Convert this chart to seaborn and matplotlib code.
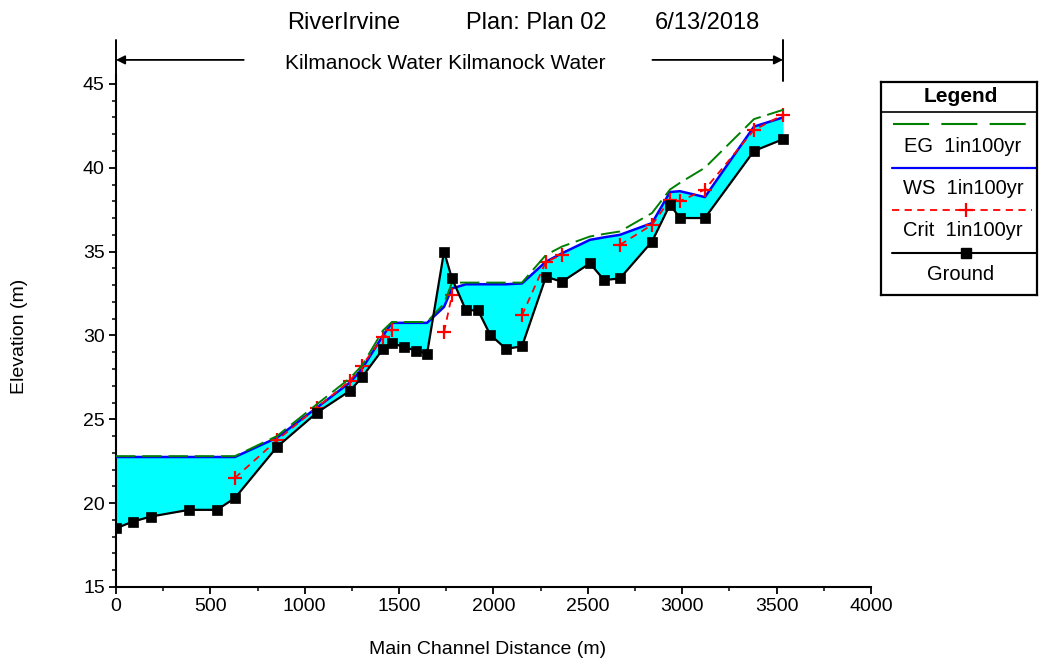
import numpy as np
import pandas as pd
import matplotlib
matplotlib.use("Agg")
import matplotlib.pyplot as plt
from matplotlib.ticker import AutoMinorLocator
import seaborn as sns

# River stations along the main channel (m) and profile elevations (m)
station = [0, 90, 185, 387, 535, 630, 853, 1065, 1240, 1303, 1415, 1462, 1526,
           1590, 1648, 1738, 1780, 1854, 1918, 1982, 2066, 2151, 2278, 2363,
           2511, 2586, 2670, 2840, 2935, 2988, 3120, 3380, 3534]
ground = [18.5, 18.9, 19.2, 19.6, 19.6, 20.3, 23.35, 25.4, 26.7, 27.5, 29.2,
          29.55, 29.3, 29.1, 28.9, 35.0, 33.4, 31.5, 31.5, 30.05, 29.2, 29.35,
          33.5, 33.2, 34.3, 33.3, 33.4, 35.6, 37.8, 37.0, 37.0, 41.0, 41.7]
ws_100yr = [22.75, 22.75, 22.75, 22.75, 22.75, 22.75, 23.9, 25.7, 27.2, 28.0,
            30.0, 30.75, 30.75, 30.75, 30.75, 31.7, 32.8, 33.05, 33.05, 33.05,
            33.05, 33.1, 34.4, 34.9, 35.7, 35.85, 36.0, 36.7, 38.55, 38.6,
            38.25, 42.45, 43.0]
eg_100yr = [22.8, 22.8, 22.8, 22.8, 22.8, 22.8, 24.0, 25.9, 27.45, 28.2, 30.3,
            30.8, 30.8, 30.8, 30.8, 31.9, 33.15, 33.15, 33.15, 33.15, 33.15,
            33.15, 34.8, 35.3, 35.9, 36.05, 36.2, 37.3, 38.7, 39.1, 40.0,
            42.9, 43.45]
crit_100yr = [np.nan, np.nan, np.nan, np.nan, np.nan, 21.5, 23.75, 25.7, 27.3,
              28.2, 29.9, 30.3, np.nan, np.nan, np.nan, 30.2, 32.4, np.nan,
              np.nan, np.nan, np.nan, 31.2, 34.4, 34.8, np.nan, np.nan, 35.4,
              36.6, 38.1, 38.0, 38.7, 42.25, 43.15]

title_river = "RiverIrvine"
title_plan = "Plan: Plan 02"
title_date = "6/13/2018"
reach_label = "Kilmanock Water Kilmanock Water"
x_label = "Main Channel Distance (m)"
y_label = "Elevation (m)"
x_ticks = [0, 500, 1000, 1500, 2000, 2500, 3000, 3500, 4000]
y_ticks = [15, 20, 25, 30, 35, 40, 45]
legend_entries = ["EG  1in100yr", "WS  1in100yr", "Crit  1in100yr", "Ground"]

sns.set_theme(style="ticks")
plt.rcParams["font.family"] = ["Liberation Sans", "DejaVu Sans"]

df = pd.DataFrame({"station": station, "ground": ground, "ws": ws_100yr,
                   "eg": eg_100yr, "crit": crit_100yr})
# critical depth is only drawn between stations where it was computed
df["crit_run"] = df["crit"].isna().cumsum()
crit_df = df.dropna(subset=["crit"])

fig = plt.figure(figsize=(10.4, 6.64), dpi=100)
fig.patch.set_facecolor("white")
ax = fig.add_axes([0.1115, 0.116, 0.726, 0.7703])
ax.set_facecolor("white")

# flow area between channel bed and water surface
ax.fill_between(df["station"], df["ground"], df["ws"], color="#00FFFF",
                linewidth=0, zorder=1)

sns.lineplot(data=df, x="station", y="ws", color="#0000FF", linewidth=1.8,
             ax=ax, zorder=3, legend=False)
sns.lineplot(data=crit_df, x="station", y="crit", units="crit_run",
             estimator=None, color="#FF0000", linewidth=1.3,
             linestyle=(0, (4, 3)), marker="+", markersize=10,
             markeredgecolor="#FF0000", markeredgewidth=1.6,
             ax=ax, zorder=4, legend=False)
sns.lineplot(data=df, x="station", y="eg", color="#008000", linewidth=1.4,
             linestyle=(0, (10, 3.5)), ax=ax, zorder=5, legend=False)
sns.lineplot(data=df, x="station", y="ground", color="black", linewidth=1.6,
             marker="s", markersize=7.5, markeredgecolor="black",
             markerfacecolor="black", markeredgewidth=0.5,
             ax=ax, zorder=6, legend=False)

ax.set_xlim(0, 4000)
ax.set_ylim(15, 45.5)
ax.set_xticks(x_ticks)
ax.set_yticks(y_ticks)
ax.xaxis.set_minor_locator(AutoMinorLocator(2))
ax.yaxis.set_minor_locator(AutoMinorLocator(5))
ax.tick_params(which="major", direction="out", length=5, width=1.3,
               labelsize=14, pad=3, colors="black")
ax.tick_params(which="minor", direction="out", length=3, width=1.1,
               colors="black")
sns.despine(ax=ax)
for side in ("left", "bottom"):
    ax.spines[side].set_color("black")
    ax.spines[side].set_linewidth(1.5)

ax.set_xlabel(x_label, fontsize=14, color="black")
ax.set_ylabel(y_label, fontsize=14, color="black")
ax.xaxis.set_label_coords(0.492, -0.106)
ax.yaxis.set_label_coords(-0.116, 0.489)

# reach extent marker above the plot
reach_start, reach_end = station[0], station[-1]
reach_mid = (reach_start + reach_end) / 2
y_arrow, bar_lo, bar_hi = 46.43, 45.2, 47.62
for xb in (reach_start, reach_end):
    ax.plot([xb, xb], [bar_lo, bar_hi], color="black", lw=1.4, clip_on=False)
ax.annotate("", xy=(reach_start, y_arrow), xytext=(reach_mid - 1090, y_arrow),
            arrowprops=dict(arrowstyle="-|>", color="black", lw=1.3,
                            mutation_scale=13, shrinkA=0, shrinkB=0),
            annotation_clip=False)
ax.annotate("", xy=(reach_end, y_arrow), xytext=(reach_mid + 1075, y_arrow),
            arrowprops=dict(arrowstyle="-|>", color="black", lw=1.3,
                            mutation_scale=13, shrinkA=0, shrinkB=0),
            annotation_clip=False)
ax.text(reach_mid - 20, 46.2, reach_label, ha="center", va="center",
        fontsize=15, color="black", clip_on=False)

# title pieces
fig.text(344 / 1040, 1 - 23 / 664, title_river, ha="center", va="center",
         fontsize=17, color="black")
fig.text(536 / 1040, 1 - 23 / 664, title_plan, ha="center", va="center",
         fontsize=17, color="black")
fig.text(707 / 1040, 1 - 23 / 664, title_date, ha="center", va="center",
         fontsize=17, color="black")

# legend box, drawn in its own pixel-scaled panel
lx0, lx1, ly0, ly1 = 881, 1037, 82, 295
lax = fig.add_axes([lx0 / 1040, 1 - ly1 / 664, (lx1 - lx0) / 1040,
                    (ly1 - ly0) / 664])
lax.set_xlim(lx0, lx1)
lax.set_ylim(ly1, ly0)
lax.set_xticks([])
lax.set_yticks([])
for sp in lax.spines.values():
    sp.set_color("black")
    sp.set_linewidth(1.6)
lax.set_facecolor("white")
cx = (lx0 + lx1) / 2
lax.text(cx + 2, 97, "Legend", ha="center", va="center", fontsize=15,
         fontweight="bold", color="black")
lax.plot([lx0, lx1], [112, 112], color="black", lw=1.2)
lax.plot([893, 1026], [124, 124], color="#008000", lw=1.5,
         linestyle=(0, (17.3, 5.9)))
lax.text(cx + 4, 146, legend_entries[0], ha="center", va="center",
         fontsize=14.5, color="black")
lax.plot([892, 1036], [168, 168], color="#0000FF", lw=1.6)
lax.text(cx + 4, 188, legend_entries[1], ha="center", va="center",
         fontsize=14.5, color="black")
lax.plot([892, 1032], [210, 210], color="#FF0000", lw=1.3,
         linestyle=(0, (4, 3)))
lax.plot([966], [210], marker="+", markersize=10, color="#FF0000",
         markeredgewidth=1.6)
lax.text(cx + 4, 230, legend_entries[2], ha="center", va="center",
         fontsize=14.5, color="black")
lax.plot([892, 1036], [253, 253], color="black", lw=1.5)
lax.plot([966], [253], marker="s", markersize=7.5, color="black")
lax.text(cx + 2, 275, legend_entries[3], ha="center", va="center",
         fontsize=14.5, color="black")

fig.savefig("out.png", dpi=100, facecolor="white")
